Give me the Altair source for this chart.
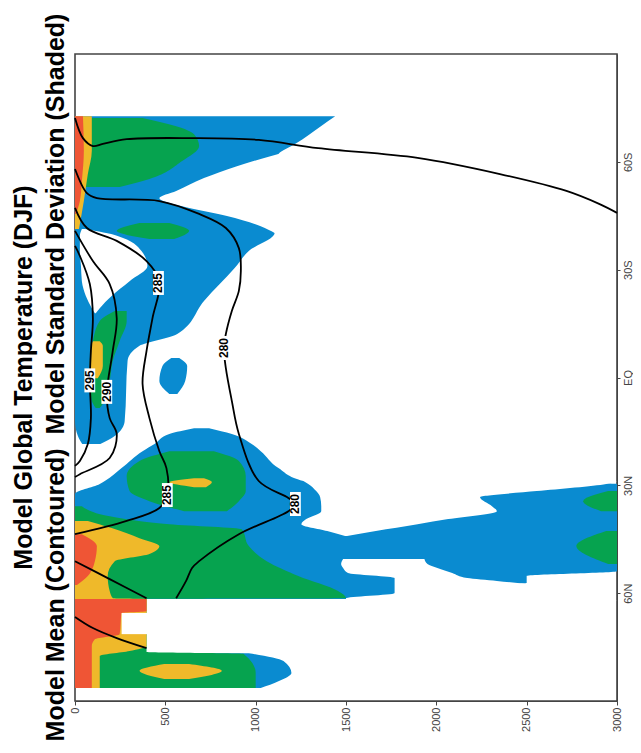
import altair as alt
import pandas as pd

# ---------------- axis values ----------------
DEPTH_TICKS = [0, 500, 1000, 1500, 2000, 2500, 3000]
LAT_TICKS = [-60, -30, 0, 30, 60]

# ---------------- shaded std-dev regions: rows of (latitude, depth_from, depth_to) ----------------
BLUE_SOUTH = [(-72.7, 0, 1440), (-70.0, 0, 1363), (-65.0, 0, 1220), (-62.2, 0, 1126), (-60.2, 0, 1105),
              (-40.2, 0, 1105), (-35.2, 0, 962), (-30.5, 0, 885), (-21.3, 0, 714), (-12.1, 0, 566),
              (-8.8, 0, 357), (-4.6, 0, 291), (12.1, 0, 275), (16.3, 16, 220), (18.5, 40, 140)]
BLUE_EQ_BLOB = [(-5.4, 533, 577), (-3.2, 484, 621), (1.0, 467, 610), (4.6, 522, 566)]
BLUE_NORTH = [(14.1, 659, 742), (15.7, 522, 868), (18.5, 440, 978), (20.5, 374, 1028), (25.2, 258, 1126),
              (28.8, 165, 1264), (29.6, 137, 3000), (32.4, 0, 3000), (53.9, 0, 3000), (55.2, 0, 2500),
              (57.2, 0, 2500), (58.0, 0, 1786), (60.0, 0, 1769), (61.4, 0, 1500), (61.6, 0, 1500)]
BLUE_ARCTIC = [(76.7, 0, 962), (78.9, 0, 1154), (82.2, 0, 1198), (84.5, 0, 1126), (86.4, 0, 1028)]

WHITE_WEDGE = [(-62.2, 1126, 1484), (-60.8, 1028, 1484), (-58.8, 896, 1484), (-55.5, 714, 1484),
               (-51.9, 560, 1484), (-49.9, 467, 1484), (-47.7, 588, 1484), (-44.9, 841, 1484),
               (-42.1, 1028, 1484), (-40.2, 1105, 1484)]
WHITE_SUBTROP_S = [(-41.3, 38, 55), (-39.4, 27, 236), (-35.2, 27, 368), (-31.0, 33, 401), (-26.8, 38, 302),
                   (-22.7, 60, 203), (-19.3, 93, 137), (-17.9, 110, 115)]
WHITE_INLET_N = [(28.8, 1264, 3000), (29.6, 1291, 2940), (31.6, 1335, 2555), (33.3, 1357, 2242),
                 (35.8, 1363, 2308), (37.2, 1363, 2335), (39.4, 1280, 2066), (40.8, 1253, 1896),
                 (42.7, 1396, 1665), (44.1, 1495, 1506)]
WHITE_INLET_N2 = [(50.5, 1484, 1934), (51.9, 1473, 1951), (53.0, 1484, 2006), (54.4, 1511, 2088),
                  (55.8, 1769, 2171), (56.6, 1769, 2335), (57.5, 1769, 2500), (62.2, 1769, 3000)]
WHITE_NOTCH = [(65.5, 258, 412), (71.4, 258, 412)]

GREEN_SOUTH = [(-72.2, 0, 374), (-67.7, 0, 659), (-64.4, 0, 687), (-60.2, 0, 593), (-55.2, 0, 412), (-53.0, 0, 247)]
GREEN_SOUTH2 = [(-43.0, 357, 522), (-40.8, 231, 632), (-38.5, 412, 549)]
GREEN_TROP = [(-18.5, 220, 286), (-15.7, 137, 286), (-10.1, 99, 247), (-4.6, 82, 209), (1.0, 82, 192),
              (6.5, 93, 165), (8.5, 115, 137)]
GREEN_NORTH1 = [(20.5, 522, 769), (23.2, 357, 907), (27.4, 286, 945), (31.6, 302, 945), (34.4, 412, 907), (37.2, 604, 841)]
GREEN_NORTH2 = [(35.8, 0, 38), (38.6, 0, 192), (40.8, 0, 522), (42.2, 0, 923), (46.9, 0, 962), (51.1, 0, 1061),
                (55.2, 0, 1236), (59.4, 0, 1456), (61.4, 0, 1500), (61.6, 0, 396), (76.4, 0, 396),
                (76.9, 0, 934), (82.2, 0, 1000), (86.4, 0, 1000)]
GREEN_DEEP1 = [(31.6, 2951, 3000), (34.4, 2813, 3000), (37.2, 2912, 3000)]
GREEN_DEEP2 = [(42.7, 2940, 3000), (46.9, 2775, 3000), (51.9, 2951, 3000)]

YELLOW_SOUTH = [(-72.7, 0, 93), (-63.0, 0, 93), (-56.6, 0, 71), (-49.1, 0, 49), (-41.3, 0, 22)]
YELLOW_TROP = [(-10.1, 99, 137), (-8.8, 88, 154), (-3.2, 82, 154), (0.2, 93, 126)]
YELLOW_NORTH1 = [(28.0, 659, 714), (29.1, 522, 758), (30.5, 659, 725)]
YELLOW_NORTH2 = [(39.9, 0, 71), (41.9, 0, 203), (44.7, 0, 357), (46.9, 0, 467), (49.1, 0, 412), (51.1, 0, 220),
                 (55.2, 0, 181), (59.4, 0, 192), (61.4, 0, 210), (61.6, 0, 396), (74.7, 0, 396),
                 (76.1, 0, 302), (77.5, 0, 137), (86.4, 0, 137)]
YELLOW_ARCTIC = [(79.7, 494, 632), (81.6, 357, 813), (83.9, 494, 632)]

RED_SOUTH = [(-72.7, 0, 44), (-63.0, 0, 49), (-54.7, 0, 38), (-49.1, 0, 27), (-45.5, 0, 5)]
RED_NORTH1 = [(43.6, 0, 38), (46.9, 0, 121), (51.1, 0, 110), (55.2, 0, 71), (57.7, 0, 11)]
RED_NORTH2 = [(61.6, 0, 396), (65.0, 0, 396), (65.5, 0, 258), (71.4, 0, 247), (72.8, 0, 110),
              (74.7, 0, 93), (86.4, 0, 93)]

# ---------------- mean temperature contours: (depth, latitude) ----------------
C275 = [(0, -72.2), (44, -66.6), (99, -64.4), (154, -65.0), (286, -66.3), (648, -66.6), (1017, -66.1),
        (1346, -63.8), (1896, -61.1), (2352, -56.6), (2720, -51.9), (2901, -48.3), (3000, -45.8)]
C280 = [(0, -58.0), (66, -51.3), (121, -49.9), (467, -49.1), (687, -45.5), (835, -41.6), (907, -36.0),
        (918, -29.6), (907, -24.1), (868, -18.5), (835, -12.1), (824, -8.2), (835, -2.6), (868, 6.5),
        (907, 15.7), (1017, 28.8), (1181, 33.5), (1220, 35.2), (1181, 37.2), (907, 43.6), (687, 51.1),
        (648, 53.0), (615, 56.6), (560, 61.4)]
C285 = [(0, -47.2), (66, -41.6), (231, -38.0), (396, -32.4), (467, -26.8), (429, -16.5), (396, -7.4),
        (374, 1.8), (412, 11.3), (467, 20.5), (506, 25.2), (511, 32.7), (467, 36.3), (286, 39.9), (0, 43.6)]
C290 = [(0, -40.8), (99, -32.4), (192, -26.0), (231, -16.5), (209, -7.4), (176, 4.6), (192, 11.3),
        (231, 15.7), (192, 22.4), (27, 26.9), (0, 27.7)]
C295 = [(0, -36.6), (27, -33.8), (82, -26.0), (99, -16.5), (88, -7.4), (82, 1.0), (88, 11.3),
        (71, 18.5), (27, 23.2), (0, 24.6)]
CN1 = [(0, 51.1), (192, 56.1), (396, 61.4)]
CN2 = [(0, 66.6), (99, 69.7), (231, 72.5), (396, 75.3)]

LABEL_TEXT = ["295", "290", "285", "285", "280", "280"]
LABEL_DEPTH = [82, 176, 462, 511, 824, 1220]
LABEL_LAT = [0.8, 4.0, -26.3, 32.7, -8.2, 35.2]

COLORS = {"blue": "#0a8bd0", "white": "#ffffff", "green": "#06a34f", "yellow": "#efb92a", "red": "#ef5535"}

GROUPS = [
    ("blue", [("bs", BLUE_SOUTH), ("be", BLUE_EQ_BLOB), ("bn", BLUE_NORTH), ("ba", BLUE_ARCTIC)]),
    ("white", [("w1", WHITE_WEDGE), ("w2", WHITE_SUBTROP_S), ("w3", WHITE_INLET_N), ("w4", WHITE_INLET_N2)]),
    ("green", [("g1", GREEN_SOUTH), ("g2", GREEN_SOUTH2), ("g3", GREEN_TROP), ("g4", GREEN_NORTH1),
               ("g5", GREEN_NORTH2), ("g6", GREEN_DEEP1), ("g7", GREEN_DEEP2)]),
    ("yellow", [("y1", YELLOW_SOUTH), ("y2", YELLOW_TROP), ("y3", YELLOW_NORTH1), ("y4", YELLOW_NORTH2),
                ("y5", YELLOW_ARCTIC)]),
    ("red", [("r1", RED_SOUTH), ("r2", RED_NORTH1), ("r3", RED_NORTH2)]),
    ("white", [("n1", WHITE_NOTCH)]),
]

xs = alt.Scale(domain=[0, 3000], nice=False, zero=False)
ys = alt.Scale(domain=[-90, 90], reverse=True, nice=False, zero=False)

X_AXIS = alt.Axis(values=DEPTH_TICKS, format="d", labelAngle=270, labelAlign="right", labelBaseline="middle",
                  labelFontSize=11, labelColor="#444444", labelFont="Liberation Sans",
                  tickSize=4, tickColor="#444444", domainColor="#444444", grid=False, title=None,
                  labelPadding=2)
Y_AXIS = alt.Axis(values=LAT_TICKS, orient="right", labelAngle=270, labelAlign="center", labelBaseline="top",
                  labelExpr="datum.value < 0 ? (-datum.value) + 'S' : (datum.value > 0 ? datum.value + 'N' : 'EQ')",
                  labelFontSize=11, labelColor="#444444", labelFont="Liberation Sans",
                  tickSize=3, tickColor="#444444", domainColor="#444444", grid=False, title=None,
                  labelPadding=2)


def X(field):
    return alt.X(field, scale=xs, axis=X_AXIS)


def Y(field):
    return alt.Y(field, scale=ys, axis=Y_AXIS)


area_layers = []
for color_name, shapes in GROUPS:
    recs = []
    for name, pts in shapes:
        for lat, d0, d1 in pts:
            recs.append({"shape": name, "lat": lat, "d0": d0, "d1": d1})
    df = pd.DataFrame(recs)
    area_layers.append(
        alt.Chart(df).mark_area(orient="horizontal", color=COLORS[color_name], opacity=1,
                                interpolate="monotone").encode(
            y=Y("lat:Q"),
            x=X("d0:Q"),
            x2=alt.X2("d1:Q"),
            detail=alt.Detail("shape:N"),
        )
    )

cont_rows = []
for name, pts in [("c275", C275), ("c280", C280), ("c285", C285), ("c290", C290), ("c295", C295),
                  ("cn1", CN1), ("cn2", CN2)]:
    for i, (d, lat) in enumerate(pts):
        cont_rows.append({"name": name, "i": i, "d": d, "lat": lat})
cont = pd.DataFrame(cont_rows)

labels = pd.DataFrame({"t": LABEL_TEXT, "d": LABEL_DEPTH, "lat": LABEL_LAT})

lines = alt.Chart(cont).mark_line(color="black", strokeWidth=1.8, interpolate="catmull-rom").encode(
    x=X("d:Q"),
    y=Y("lat:Q"),
    detail="name:N",
    order=alt.Order("i:Q"),
)

boxes = alt.Chart(labels).mark_point(
    shape="M-0.45,-1L0.45,-1L0.45,1L-0.45,1Z", size=576, filled=True, color="white", opacity=1, strokeWidth=0
).encode(x=X("d:Q"), y=Y("lat:Q"))

texts = alt.Chart(labels).mark_text(
    angle=270, font="Liberation Sans", fontSize=12, fontWeight="bold", color="black",
    align="center", baseline="middle"
).encode(x=X("d:Q"), y=Y("lat:Q"), text="t:N")

chart = alt.layer(*area_layers, lines, boxes, texts).properties(
    width=542, height=647,
    title=alt.TitleParams(
        text=["Model Global Temperature (DJF)",
              "Model Mean (Contoured)\u00a0 Model Standard Deviation (Shaded)"],
        orient="left", anchor="middle", font="Liberation Sans", fontSize=25, fontWeight="bold",
        color="black", offset=0, lineHeight=32,
    ),
    padding={"left": 3, "top": 5, "right": 0, "bottom": 0},
    background="white",
).configure_view(stroke="#444444", strokeWidth=1.6)

chart.save("out.html", embed_options={"renderer": "svg", "actions": False})
